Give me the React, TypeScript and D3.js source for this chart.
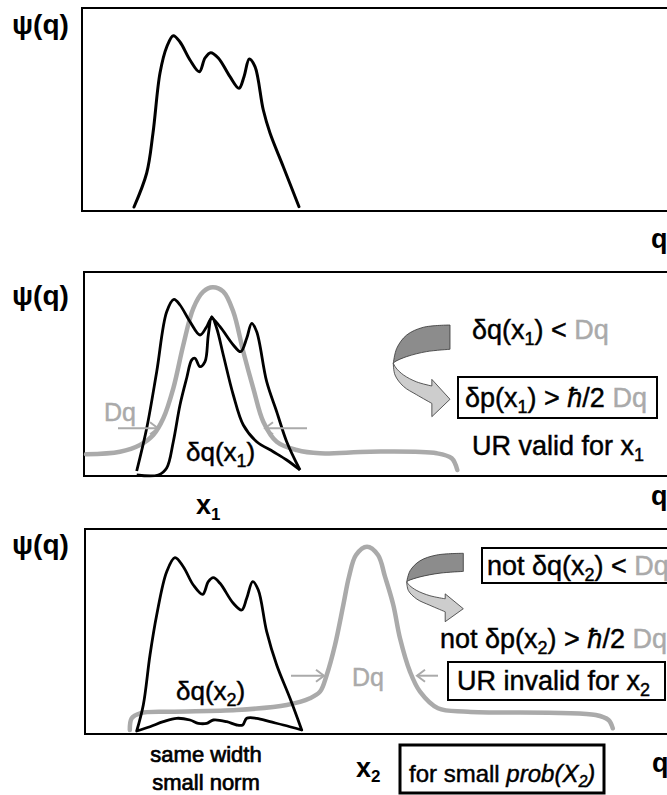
import React from 'react';
import * as d3 from 'd3';

type P = [number, number];

// ---- Data: q (horizontal units), psi (height above panel baseline) ----
const wavePanel1: P[] = [
  [51, 4], [63.7, 38], [70, 78], [77, 138], [83.7, 164], [90.3, 175.3], [97, 169], [107, 151],
  [116.3, 139.3], [122, 153], [127.7, 158.3], [135.3, 153], [147, 134.3], [156, 122.7], [161, 134.3],
  [166.3, 152], [172, 144.3], [180.3, 101], [187, 78], [200.3, 44.3], [216, 4.3],
];

const gaussPanel2: P[] = [
  [3, 21.7], [37, 24.3], [57, 31], [70.3, 41], [80.3, 57.7], [90.3, 87.7], [100.3, 131], [110.3, 167.7],
  [120.3, 184.3], [129.7, 188.7], [140.3, 184.3], [150.3, 164.3], [160.3, 124.3], [170.3, 87.7],
  [180.3, 54.3], [193.7, 34.3], [213.7, 26], [237, 22.7], [287, 24.3], [353.7, 22.7], [368.7, 17.7], [374.3, 6],
];

const wideWavePanel2: P[] = [
  [53.7, 5], [63.7, 47.7], [73.7, 104.3], [83.7, 164.3], [91, 176.7], [97, 171], [107, 154.3], [117, 141],
  [123.7, 149.3], [128.7, 157.7], [137, 149.3], [150.3, 131], [157.7, 124.3], [163.7, 137.7], [168.7, 152.7],
  [173.7, 144.3], [183.7, 94.3], [193.7, 64.3], [203.7, 34.3], [217, 6],
];

const narrowWavePanel2: P[] = [
  [53.7, 1], [75.3, 1], [83.7, 8], [90.3, 34.3], [97, 71], [103.7, 98], [108.7, 116], [112, 117.7],
  [117, 109.3], [122, 114.3], [125.3, 141], [128.7, 159.3], [133.7, 147.7], [140.3, 121], [150.3, 81],
  [160.3, 51], [173.7, 34.3], [190.3, 24.3], [203.7, 16], [217, 6],
];

const waveTopPanel3: P[] = [
  [53.7, 3], [60.3, 29], [67, 79], [73.7, 119], [83.7, 162.3], [92, 176.3], [100.3, 167.3], [110.3, 149],
  [119.7, 139.7], [125.3, 152.3], [130.3, 156.3], [137, 150.7], [150.3, 130.7], [158.7, 124], [163.7, 135.7],
  [169.7, 152.3], [175.3, 144], [183.7, 102.3], [193.7, 69], [207, 35.7], [218.7, 4],
];

const waveBottomPanel3: P[] = [
  [218.7, 4], [200.3, 9], [187, 12.3], [173.7, 15.7], [163.7, 15.7], [159.7, 9], [153.7, 9], [143.7, 12.3],
  [130.3, 14], [123.7, 10.7], [115.3, 10.7], [107, 14], [93.7, 15.7], [80.3, 12.3], [67, 7.3], [53.7, 3],
];

const gaussPanel3: P[] = [
  [46.8, 4], [48.7, 15.7], [57, 20.7], [87, 22.3], [153.7, 24], [203.7, 29], [227, 35.7], [237, 42.3],
  [243.7, 59], [252, 89], [260.3, 129], [266, 157.3], [273, 179], [284, 187.3], [295, 179], [302, 157.3],
  [310.3, 129], [317, 95.7], [327, 62.3], [337, 42.3], [355, 25.7], [385, 22.3], [512.7, 19], [525.5, 14], [529.8, 5.7],
];

// Dq width arrows: [fromQ, toQ, psi]
const dqArrowsPanel2: [number, number, number][] = [[35, 75, 47.7], [224, 182, 47.7]];
const dqArrowsPanel3: [number, number, number][] = [[208, 241, 58.3], [355, 334, 58.3]];

// curved ribbon arrow (normalized shape)
const ribbonDark: P[] = [[1, 0], [0.53, 0.025], [0.235, 0.11], [0.06, 0.255], [0, 0.418]];
const ribbonDarkInner: P[] = [[0, 0.418], [0.03, 0.40], [0.235, 0.345], [0.59, 0.29], [1, 0.265]];
const ribbonLightLower: P[] = [[0, 0.418], [0.03, 0.545], [0.18, 0.67], [0.41, 0.76], [0.68, 0.855]];
const ribbonHead: P[] = [[0.68, 0.855], [0.68, 1.0], [1, 0.81], [0.68, 0.593], [0.68, 0.665]];
const ribbonLightUpper: P[] = [[0.68, 0.665], [0.41, 0.62], [0.18, 0.545], [0.05, 0.47], [0, 0.418]];
// ribbon boxes [q0, q1, psiTop, psiBottom]
const ribbonBox2: [number, number, number, number] = [310.3, 367, 151, 59.3];
const ribbonBox3: [number, number, number, number] = [323.7, 380.3, 180.7, 112.3];

// ---- Layout ----
const W = 667, H = 795;
const FONT = '"Liberation Sans", Arial, Helvetica, sans-serif';
const GRAY = '#aaaaaa';
const panels = [
  { left: 82, top: 8, bottom: 211 },
  { left: 84, top: 272, bottom: 476 },
  { left: 85, top: 529, bottom: 734 },
];

const xScale = d3.scaleLinear().domain([0, 600]).range([83, 683]);
const yScaleFor = (i: number) => d3.scaleLinear().domain([0, 200]).range([panels[i].bottom, panels[i].bottom - 200]);

const lineFor = (i: number) => {
  const ys = yScaleFor(i);
  return d3.line<P>().x(d => xScale(d[0])).y(d => ys(d[1])).curve(d3.curveCatmullRom.alpha(0.5));
};

function Frame({ i }: { i: number }) {
  const p = panels[i];
  return <rect x={p.left} y={p.top} width={700 - p.left} height={p.bottom - p.top} fill="white" stroke="black" strokeWidth={2} />;
}

function DqArrows({ i, arrows }: { i: number; arrows: [number, number, number][] }) {
  const ys = yScaleFor(i);
  return (
    <g stroke={GRAY} strokeWidth={2} fill="none">
      {arrows.map(([a, b, psi], k) => {
        const x0 = xScale(a), x1 = xScale(b), y = ys(psi);
        const dir = Math.sign(x1 - x0);
        const hl = 8, hw = 6;
        return (
          <g key={k}>
            <line x1={x0} y1={y} x2={x1} y2={y} />
            <path d={`M${x1 - dir * hl},${y - hw} L${x1},${y} L${x1 - dir * hl},${y + hw}`} />
          </g>
        );
      })}
    </g>
  );
}

function Ribbon({ i, box }: { i: number; box: [number, number, number, number] }) {
  const ys = yScaleFor(i);
  const sx = d3.scaleLinear().domain([0, 1]).range([xScale(box[0]), xScale(box[1])]);
  const sy = d3.scaleLinear().domain([0, 1]).range([ys(box[2]), ys(box[3])]);
  const curve = d3.line<P>().x(d => sx(d[0])).y(d => sy(d[1])).curve(d3.curveCatmullRom.alpha(0.5));
  const straight = d3.line<P>().x(d => sx(d[0])).y(d => sy(d[1]));
  const cont = (s: string | null) => (s || '').replace(/^M/, 'L');
  const dark = (curve(ribbonDark) || '') + cont(curve(ribbonDarkInner)) + 'Z';
  const light = (curve(ribbonLightLower) || '') + cont(straight(ribbonHead)) + cont(curve(ribbonLightUpper)) + 'Z';
  return (
    <g stroke="#333" strokeWidth={0.8} strokeLinejoin="round">
      <path d={light} fill="#cdcdcd" />
      <path d={dark} fill="#8c8c8c" />
    </g>
  );
}

const T = { stroke: 'black', strokeWidth: 0.45 } as const;
const TG = { fill: GRAY, stroke: GRAY, strokeWidth: 0.45 } as const;

export default function App() {
  const l0 = lineFor(0), l1 = lineFor(1), l2 = lineFor(2);
  const shape3 = (l2(waveTopPanel3) || '') + (l2(waveBottomPanel3) || '').replace(/^M/, 'L') + 'Z';
  return (
    <svg width={W} height={H} style={{ position: 'absolute', left: 0, top: 0, background: 'white' }} fontFamily={FONT}>
      <rect width={W} height={H} fill="white" />
      {/* Panel 1 */}
      <Frame i={0} />
      <path d={l0(wavePanel1) || ''} fill="none" stroke="black" strokeWidth={3} strokeLinejoin="round" strokeLinecap="round" />
      <text x={12} y={34} fontSize={28} fontWeight="bold">ψ(q)</text>
      <text x={651} y={248} fontSize={27} fontWeight="bold">q</text>

      {/* Panel 2 */}
      <Frame i={1} />
      <path d={l1(gaussPanel2) || ''} fill="none" stroke={GRAY} strokeWidth={4.5} strokeLinecap="round" />
      <path d={l1(wideWavePanel2) || ''} fill="none" stroke="black" strokeWidth={2.8} strokeLinejoin="round" />
      <path d={l1(narrowWavePanel2) || ''} fill="none" stroke="black" strokeWidth={2.8} strokeLinejoin="round" />
      <DqArrows i={1} arrows={dqArrowsPanel2} />
      <Ribbon i={1} box={ribbonBox2} />
      <text x={12} y={305} fontSize={28} fontWeight="bold">ψ(q)</text>
      <text x={651} y={505} fontSize={27} fontWeight="bold">q</text>
      <text x={196} y={514} fontSize={27} fontWeight="bold">x<tspan dy={6} fontSize={17}>1</tspan></text>
      <text x={104} y={421} fontSize={25} {...TG}>Dq</text>
      <text x={186} y={461} fontSize={26} {...T}>δq(x<tspan dy={6} fontSize={18}>1</tspan><tspan dy={-6}>)</tspan></text>
      <text x={472} y={339} fontSize={27} {...T}>δq(x<tspan dy={6} fontSize={18}>1</tspan><tspan dy={-6}>) &lt; </tspan><tspan {...TG}>Dq</tspan></text>
      <rect x={458} y={377} width={199} height={41} fill="none" stroke="black" strokeWidth={2} />
      <text x={465} y={407} fontSize={27} {...T}>δp(x<tspan dy={6} fontSize={18}>1</tspan><tspan dy={-6}>) &gt; </tspan><tspan fontStyle="italic">ħ</tspan>/2 <tspan {...TG}>Dq</tspan></text>
      <text x={472} y={455} fontSize={27} {...T}>UR valid for x<tspan dy={6} fontSize={18}>1</tspan></text>

      {/* Panel 3 */}
      <Frame i={2} />
      <path d={l2(gaussPanel3) || ''} fill="none" stroke={GRAY} strokeWidth={4.5} strokeLinecap="round" />
      <path d={shape3} fill="none" stroke="black" strokeWidth={2.8} strokeLinejoin="round" />
      <DqArrows i={2} arrows={dqArrowsPanel3} />
      <Ribbon i={2} box={ribbonBox3} />
      <text x={12} y={554} fontSize={28} fontWeight="bold">ψ(q)</text>
      <text x={652} y={772} fontSize={27} fontWeight="bold">q</text>
      <text x={356} y={777} fontSize={27} fontWeight="bold">x<tspan dy={5} fontSize={17}>2</tspan></text>
      <text x={176} y={700} fontSize={26} {...T}>δq(x<tspan dy={6} fontSize={18}>2</tspan><tspan dy={-6}>)</tspan></text>
      <text x={352} y={686} fontSize={25} {...TG}>Dq</text>
      <rect x={482} y={548} width={250} height={35} fill="none" stroke="black" strokeWidth={2} />
      <text x={487} y={575} fontSize={27} {...T}>not δq(x<tspan dy={6} fontSize={18}>2</tspan><tspan dy={-6}>) &lt; </tspan><tspan {...TG}>Dq</tspan></text>
      <text x={440} y={648} fontSize={27} {...T}>not δp(x<tspan dy={6} fontSize={18}>2</tspan><tspan dy={-6}>) &gt; </tspan><tspan fontStyle="italic">ħ</tspan>/2 <tspan {...TG}>Dq</tspan></text>
      <rect x={448} y={662} width={217} height={38} fill="none" stroke="black" strokeWidth={2} />
      <text x={457} y={690} fontSize={27} {...T}>UR invalid for x<tspan dy={6} fontSize={18}>2</tspan></text>
      <text x={206} y={762} fontSize={22} textAnchor="middle" stroke="black" strokeWidth={0.7}>same width</text>
      <text x={206} y={790} fontSize={22} textAnchor="middle" stroke="black" strokeWidth={0.7}>small norm</text>
      <rect x={400} y={745} width={204} height={48} fill="none" stroke="black" strokeWidth={3} />
      <text x={409} y={782} fontSize={24} {...T}>for small <tspan fontStyle="italic">prob(X<tspan dy={5} fontSize={16}>2</tspan><tspan dy={-5}>)</tspan></tspan></text>
    </svg>
  );
}
